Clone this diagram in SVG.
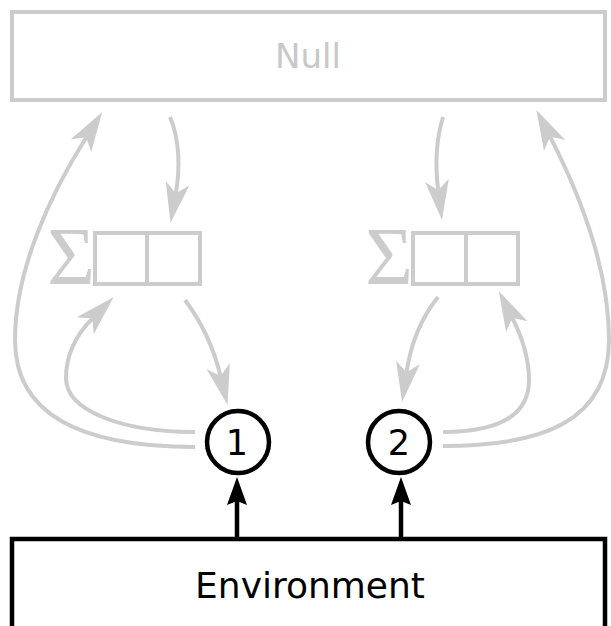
<svg xmlns="http://www.w3.org/2000/svg" width="611" height="626" viewBox="0 0 611 626">
<style>
.g{fill:none;stroke:#cccccc;stroke-width:4}
.k{fill:none;stroke:#000;stroke-width:4.5}
.gt{font-family:"DejaVu Sans",sans-serif;fill:#c8c8c8;text-anchor:middle}
.kt{font-family:"DejaVu Sans",sans-serif;fill:#000;text-anchor:middle}
.sig{font-family:"Liberation Serif",serif;fill:#cccccc;text-anchor:middle;font-size:82px}
</style>
<defs>
<marker id="ag" markerUnits="userSpaceOnUse" orient="auto" refX="0" refY="0" markerWidth="10" markerHeight="10" overflow="visible">
<path d="M30,0 L-10,-12 L0,0 L-10,12 Z" fill="#cccccc"/>
</marker>
<marker id="ak" markerUnits="userSpaceOnUse" orient="auto" refX="0" refY="0" markerWidth="10" markerHeight="10" overflow="visible">
<path d="M24,0 L-4,-10 L0,0 L-4,10 Z" fill="#000"/>
</marker>
</defs>
<g id="null">
<rect class="g" x="12" y="12" width="593" height="88"/>
<text class="gt" x="308" y="68" font-size="34">Null</text>
</g>
<g id="reg1">
<text class="sig" x="71" y="284">Σ</text>
<rect class="g" x="95" y="233" width="105" height="51"/>
<line class="g" x1="147" y1="233" x2="147" y2="284"/>
</g>
<g id="reg2">
<text class="sig" x="389" y="284">Σ</text>
<rect class="g" x="413" y="233" width="105" height="51"/>
<line class="g" x1="466" y1="233" x2="466" y2="284"/>
</g>
<g id="n1">
<circle cx="238" cy="442" r="31" fill="#fff" stroke="#000" stroke-width="4.5"/>
<text class="kt" x="237" y="455" font-size="35">1</text>
</g>
<g id="n2">
<circle cx="399" cy="442" r="31" fill="#fff" stroke="#000" stroke-width="4.5"/>
<text class="kt" x="399" y="455" font-size="35">2</text>
</g>
<g id="env">
<rect class="k" x="12" y="539" width="593" height="100"/>
<text class="kt" x="310" y="598" font-size="36">Environment</text>
</g>
<g id="connectors">
<path class="g" marker-end="url(#ag)" d="M170,117 C180,140 180,170 175.8,193.3"/>
<path class="g" marker-end="url(#ag)" d="M185,300 C200,320 213,345 220.5,375.9"/>
<path class="g" marker-end="url(#ag)" d="M195,432 C120,432 66,410 66,378 C66,355 76,335 92.3,318.6"/>
<path class="g" marker-end="url(#ag)" d="M195,447 C90,447 15,420 15,340 C15,270 50,195 86.3,137.3"/>
<path class="g" marker-end="url(#ag)" d="M443,117 C436,140 435,165 438.2,190.3"/>
<path class="g" marker-end="url(#ag)" d="M438,297 C422,317 411,342 406.5,372.3"/>
<path class="g" marker-end="url(#ag)" d="M443,432 C500,432 529,415 529,380 C529,358 522,337 512.3,317.8"/>
<path class="g" marker-end="url(#ag)" d="M443,446 C545,446 609,420 609,340 C609,270 580,195 550.1,136.6"/>
<path class="k" marker-end="url(#ak)" d="M237,539 V501"/>
<path class="k" marker-end="url(#ak)" d="M401,539 V501"/>
</g>
</svg>
